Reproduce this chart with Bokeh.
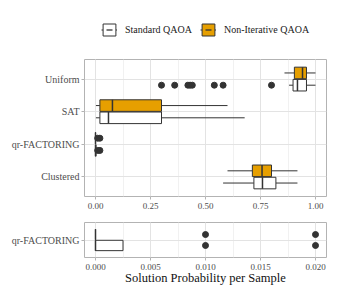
import math
from bokeh.plotting import figure
from bokeh.models import (ColumnDataSource, Range1d, FixedTicker, SingleIntervalTicker,
                          NumeralTickFormatter, Legend, LegendItem)
from bokeh.layouts import column
from bokeh.embed import file_html
from bokeh.resources import INLINE

FONT = "Liberation Serif"
ORANGE = "#E69F00"
LINE = "#333333"
NAN = float("nan")

# ---- data ----
categories = ["Uniform", "SAT", "qr-FACTORING", "Clustered"]
methods = ["Standard QAOA", "Non-Iterative QAOA"]
method_fill = ["white", ORANGE]

std_low = [0.880, 0.002, 0.0, 0.580]
std_q1 = [0.898, 0.020, 0.0, 0.720]
std_med = [0.918, 0.059, 0.0, 0.759]
std_q3 = [0.959, 0.300, 0.0025, 0.820]
std_high = [1.000, 0.678, 0.0025, 0.918]

ni_low = [0.859, 0.002, 0.0, 0.600]
ni_q1 = [0.904, 0.020, 0.0, 0.713]
ni_med = [0.941, 0.077, 0.0, 0.757]
ni_q3 = [0.959, 0.300, 0.0, 0.800]
ni_high = [1.000, 0.600, 0.0, 0.918]

std_out_cat = ["Uniform"] * 8 + ["qr-FACTORING"] * 2
std_out_val = [0.30, 0.36, 0.42, 0.43, 0.44, 0.54, 0.58, 0.80, 0.01, 0.02]
ni_out_cat = ["qr-FACTORING"] * 2
ni_out_val = [0.01, 0.02]

zoom_categories = ["qr-FACTORING"]

BOX_H = 0.355
DODGE = 0.1875


def style(p, cats, fmt, interval):
    n = len(cats)
    p.outline_line_color = "#B3B3B3"
    p.outline_line_width = 1
    p.xgrid.ticker = SingleIntervalTicker(interval=interval, num_minor_ticks=2)
    p.xaxis.ticker = SingleIntervalTicker(interval=interval, num_minor_ticks=2)
    p.xaxis.formatter = NumeralTickFormatter(format=fmt)
    p.xgrid.grid_line_color = "#E3E3E3"
    p.xgrid.grid_line_width = 1
    p.xgrid.minor_grid_line_color = "#F1F1F1"
    p.xgrid.minor_grid_line_width = 1
    ticks = [float(n - i) for i in range(n)]
    p.yaxis.ticker = FixedTicker(ticks=ticks, minor_ticks=[])
    p.ygrid.ticker = FixedTicker(ticks=ticks, minor_ticks=[])
    p.yaxis.major_label_overrides = {t: c for t, c in zip(ticks, cats)}
    p.ygrid.grid_line_color = "#E3E3E3"
    p.ygrid.grid_line_width = 1
    for ax in (p.xaxis[0], p.yaxis[0]):
        ax.axis_line_color = None
        ax.major_tick_in = 0
        ax.major_tick_out = 3
        ax.major_tick_line_color = "#B3B3B3"
        ax.minor_tick_line_color = None
        ax.major_label_standoff = 2
        ax.major_label_text_font = FONT
        ax.major_label_text_color = "#4D4D4D"
    p.xaxis.major_label_text_font_size = "9px"
    p.yaxis.major_label_text_font_size = "10px"


def draw(p, cats):
    n = len(cats)
    for m, (low, q1, med, q3, high, ocat, oval, off) in enumerate([
        (std_low, std_q1, std_med, std_q3, std_high, std_out_cat, std_out_val, -DODGE),
        (ni_low, ni_q1, ni_med, ni_q3, ni_high, ni_out_cat, ni_out_val, DODGE),
    ]):
        idx = [categories.index(c) for c in cats]
        y = [float(n - k) + off for k in range(n)]
        src = ColumnDataSource(dict(
            y=y,
            y0=[v - BOX_H / 2 for v in y],
            y1=[v + BOX_H / 2 for v in y],
            low=[low[i] for i in idx], q1=[q1[i] for i in idx], med=[med[i] for i in idx],
            q3=[q3[i] for i in idx], high=[high[i] for i in idx],
        ))
        p.segment(x0="low", y0="y", x1="q1", y1="y", source=src, line_color=LINE, line_width=1)
        p.segment(x0="q3", y0="y", x1="high", y1="y", source=src, line_color=LINE, line_width=1)
        p.hbar(y="y", left="q1", right="q3", height=BOX_H, source=src,
               fill_color=method_fill[m], line_color=LINE, line_width=1)
        p.segment(x0="med", y0="y0", x1="med", y1="y1", source=src, line_color=LINE, line_width=1.5)
        oy = [float(n - cats.index(c)) + off for c in ocat if c in cats]
        ox = [v for c, v in zip(ocat, oval) if c in cats]
        p.scatter(x=ox, y=oy, size=6, fill_color=LINE, line_color=LINE, marker="circle")


# ---- legend strip (keys only, nothing drawn in the strip itself) ----
leg = figure(width=340, height=44, output_backend="svg", toolbar_location=None,
             x_range=Range1d(0, 1), y_range=Range1d(0, 1),
             x_axis_location=None, y_axis_location=None,
             min_border_left=0, min_border_right=0, min_border_top=0, min_border_bottom=0)
leg.grid.visible = False
leg.outline_line_color = None
items = []
for m, name in enumerate(methods):
    ks = ColumnDataSource(dict(x=[NAN], y=[NAN]))
    r1 = leg.segment(x0="x", y0="y", x1="x", y1="y", source=ks, line_color=LINE, line_width=1)
    r2 = leg.hbar(y="y", left="x", right="x", height=0.1, source=ks,
                  fill_color=method_fill[m], line_color=LINE, line_width=1)
    r3 = leg.scatter(x="x", y="y", source=ks, marker="dash", angle=math.pi / 2,
                     line_color=LINE, line_width=1.3, size=10)
    items.append(LegendItem(label=name, renderers=[r1, r2, r3]))
legend = Legend(items=items, orientation="horizontal", location=(17, 7),
                glyph_width=16, glyph_height=15, label_standoff=8, spacing=8,
                padding=0, margin=0, border_line_color=None, background_fill_alpha=0,
                label_text_font=FONT, label_text_font_size="10px", label_text_color="#1A1A1A")
leg.add_layout(legend)

top = figure(width=340, height=169, output_backend="svg", toolbar_location=None,
             x_range=Range1d(-0.05, 1.05), y_range=Range1d(0.4, 4.6),
             min_border_left=84, min_border_right=14, min_border_top=15, min_border_bottom=17)
style(top, categories, "0.00", 0.25)
draw(top, categories)

bot = figure(width=340, height=87, output_backend="svg", toolbar_location=None,
             x_range=Range1d(-0.001, 0.021), y_range=Range1d(0.4, 1.6),
             min_border_left=84, min_border_right=14, min_border_top=9, min_border_bottom=43)
style(bot, zoom_categories, "0.000", 0.005)
draw(bot, zoom_categories)
bot.xaxis.axis_label = "Solution Probability per Sample"
bot.xaxis.axis_label_text_font = FONT
bot.xaxis.axis_label_text_font_size = "12.5px"
bot.xaxis.axis_label_text_font_style = "normal"
bot.xaxis.axis_label_text_color = "#111111"
bot.xaxis.axis_label_standoff = -2

layout = column(leg, top, bot, spacing=0)
open("out.html", "w").write(file_html(layout, INLINE))
